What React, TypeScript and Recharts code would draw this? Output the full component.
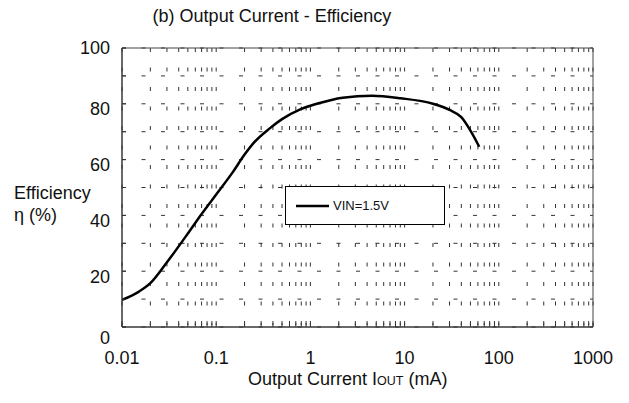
import { CartesianGrid, Legend, Line, LineChart, ReferenceArea, XAxis, YAxis } from 'recharts';

const FONT = '"Liberation Sans", Arial, sans-serif';

// efficiency curve, VIN = 1.5V
const currentMA = [0.01, 0.015, 0.02, 0.03, 0.05, 0.07, 0.1, 0.15, 0.2, 0.25, 0.37, 0.5, 0.78, 1.17, 2.2, 4.5, 9, 20, 30, 40, 50, 62];
const efficiency = [9.7, 12.6, 15.7, 23.2, 33.5, 40.5, 47.5, 55.5, 61.8, 66, 71.2, 74.5, 78, 80, 82.2, 82.9, 82, 80, 77.8, 75.2, 70.4, 64.6];
const seriesName = 'VIN=1.5V';

const xDecades = [0.01, 0.1, 1, 10, 100, 1000];
const xMinor = xDecades
  .slice(0, -1)
  .flatMap((d) => [2, 3, 4, 5, 6, 7, 8, 9].map((k) => Number((d * k).toPrecision(3))));
const yTicks = [0, 10, 20, 30, 40, 50, 60, 70, 80, 90, 100];

const data = currentMA.map((c, i) => ({ current: c, eff: efficiency[i] }));

function XTick({ x, y, payload }: any) {
  const v = payload.value as number;
  const major = xDecades.includes(v);
  return (
    <g>
      <line x1={x} x2={x} y1={y} y2={y - 4} stroke="#333" />
      {major && (
        <text x={x} y={y + 31} dy="0.355em" textAnchor="middle" fontSize={18} fontFamily={FONT} fill="#111">
          {String(v)}
        </text>
      )}
    </g>
  );
}

function YTick({ x, y, payload }: any) {
  const v = payload.value as number;
  // labels in the original sit a little low, "0" well below the axis
  const shift = v === 100 ? 0 : v === 0 ? 11 : 5;
  return (
    <g>
      <line x1={x} x2={x + 4} y1={y} y2={y} stroke="#333" />
      {v % 20 === 0 && (
        <text x={x - 12} y={y + shift} dy="0.355em" textAnchor="end" fontSize={18} fontFamily={FONT} fill="#111">
          {v}
        </text>
      )}
    </g>
  );
}

function LegendBox() {
  return (
    <div
      style={{
        boxSizing: 'border-box',
        width: 160,
        height: 39,
        border: '1px solid #000',
        background: '#fff',
        display: 'flex',
        alignItems: 'center',
        fontFamily: FONT,
        fontSize: 13,
        color: '#111',
      }}
    >
      <svg width={45} height={10} style={{ flexShrink: 0 }}>
        <line x1={10} x2={43} y1={5} y2={5} stroke="#000" strokeWidth={2.5} />
      </svg>
      <span style={{ marginLeft: 2 }}>{seriesName}</span>
    </div>
  );
}

export default function App() {
  return (
    <div style={{ position: 'absolute', left: 0, top: 0, background: '#fff' }}>
      <LineChart width={629} height={403} data={data} margin={{ top: 48, right: 36, left: 0, bottom: 0 }}>
        <CartesianGrid stroke="#333" strokeDasharray="4 15.5" />
        <XAxis
          dataKey="current"
          type="number"
          scale="log"
          domain={[0.01, 1000]}
          allowDataOverflow
          ticks={[...xDecades, ...xMinor]}
          interval={0}
          height={76}
          tickSize={0}
          tickMargin={0}
          tickLine={false}
          axisLine={{ stroke: '#333' }}
          tick={XTick}
        />
        <YAxis
          type="number"
          domain={[0, 100]}
          ticks={yTicks}
          interval={0}
          width={122}
          tickSize={0}
          tickMargin={0}
          tickLine={false}
          axisLine={{ stroke: '#333' }}
          tick={YTick}
        />
        <ReferenceArea x1={0.01} x2={1000} y1={0} y2={100} fill="none" stroke="#444" />
        <Line
          dataKey="eff"
          name={seriesName}
          type="monotone"
          stroke="#000"
          strokeWidth={2.5}
          dot={false}
          isAnimationActive={false}
        />
        <Legend
          layout="horizontal"
          verticalAlign="middle"
          content={LegendBox}
          wrapperStyle={{ left: 285, top: 186, width: 160, height: 39 }}
        />
        <text x={272} y={22} textAnchor="middle" fontSize={18} fontFamily={FONT} fill="#111">
          (b) Output Current - Efficiency
        </text>
        <text x={14} y={199} fontSize={18} fontFamily={FONT} fill="#111">
          Efficiency
        </text>
        <text x={14} y={221} fontSize={18} fontFamily={FONT} fill="#111">
          η (%)
        </text>
        <text x={248} y={385} fontSize={18} fontFamily={FONT} fill="#111">
          Output Current I<tspan fontSize={12.5}>OUT</tspan> (mA)
        </text>
      </LineChart>
    </div>
  );
}
